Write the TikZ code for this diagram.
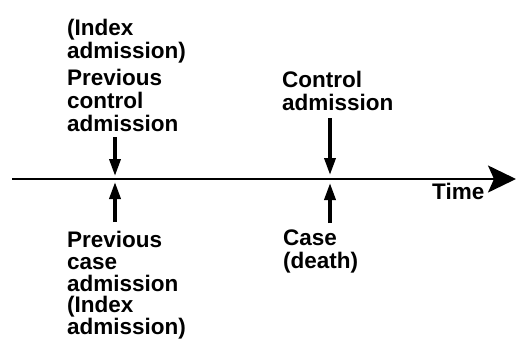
\documentclass[tikz,border=0pt]{standalone}
\usepackage{fontspec}
\setmainfont{Liberation Sans}
\usetikzlibrary{arrows.meta}
\begin{document}
\begin{tikzpicture}[x=1pt,y=-1pt,
  lbl/.style={anchor=north west,inner sep=0pt,align=left,
    font=\fontsize{22.5}{23}\selectfont\bfseries},
  lblb/.style={lbl,font=\fontsize{22.5}{21.8}\selectfont\bfseries},
  marker/.style={line width=3.5pt,-{Triangle[length=17pt,width=11pt]}},
  axis/.style={line width=2pt,-{Stealth[length=28pt,width=27pt,inset=6pt]}}]
\useasboundingbox (0,0) rectangle (516,338);
% axis
\coordinate (ax0) at (12,179);
\coordinate (ax1) at (516,179);
\draw[axis] (ax0) -- (ax1);
\node[lbl,anchor=base west] (time) at (432,199) {Time};
% labels
\node[lbl] (prevctrl) at (67,19) {(Index\\admission)\\[4pt]Previous\\control\\admission};
\node[lbl] (ctrl) at (282,71) {Control\\admission};
\node[lblb] (prevcase) at (67,231) {Previous\\case\\admission\\(Index\\admission)};
\node[lbl] (case) at (283,230) {Case\\(death)};
% arrow coordinates
\coordinate (d1s) at (115,137);
\coordinate (d1e) at (115,176);
\coordinate (u1s) at (115,222);
\coordinate (u1e) at (115,182);
\coordinate (d2s) at (330,118);
\coordinate (d2e) at (330,175);
\coordinate (u2s) at (330,223);
\coordinate (u2e) at (330,183);
\draw[marker] (d1s) -- (d1e);
\draw[marker] (u1s) -- (u1e);
\draw[marker] (d2s) -- (d2e);
\draw[marker] (u2s) -- (u2e);
\end{tikzpicture}
\end{document}
